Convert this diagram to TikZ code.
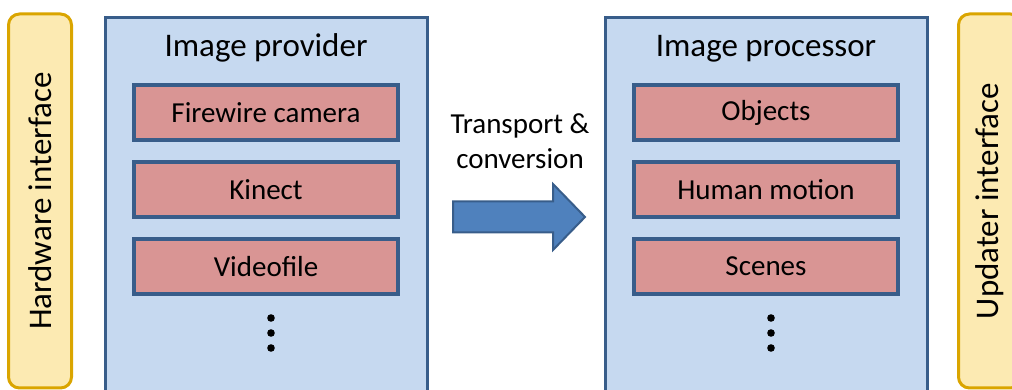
\documentclass[tikz,border=0pt]{standalone}
\usepackage{fontspec}
\setmainfont{Carlito}
\usetikzlibrary{positioning}
\definecolor{panelfill}{RGB}{198,217,240}
\definecolor{paneldraw}{RGB}{56,93,138}
\definecolor{itemfill}{RGB}{217,149,148}
\definecolor{sidefill}{RGB}{252,234,178}
\definecolor{sidedraw}{RGB}{218,165,0}
\definecolor{arrowfill}{RGB}{79,129,189}

\begin{document}
\begin{tikzpicture}[x=1pt,y=1pt,node distance=77pt,
      sidebar/.style={draw=sidedraw,fill=sidefill,line width=3pt,rounded corners=11pt,
        rotate=90,minimum width=374pt,minimum height=63pt,inner sep=0pt,
        font=\fontsize{33}{40}\selectfont},
      panel/.style={draw=paneldraw,fill=panelfill,line width=3pt,outer sep=0pt,
        minimum width=322pt,minimum height=384pt},
      paneltitle/.style={anchor=base,inner sep=0pt,font=\fontsize{33}{40}\selectfont},
      itembox/.style={draw=paneldraw,fill=itemfill,line width=4pt,inner sep=0pt,
        minimum width=264pt,minimum height=55pt,font=\fontsize{29}{35}\selectfont},
      bigarrow/.style={draw=paneldraw,fill=arrowfill,line width=2pt,line join=miter}]
    \useasboundingbox (0,0) rectangle (1012,390);
    \clip (0,0) rectangle (1012,390);
    \node[sidebar] (hardware) at (40,189) {Hardware interface};
    \node[sidebar] (updater) at (990,189) {Updater interface};
    \node[panel] (provider) at (266,180) {};
    \node[panel] (processor) at (766,180) {};
    \node[paneltitle] (providertitle) at ([yshift=-39pt]provider.north) {Image provider};
    \node[paneltitle] (processortitle) at ([yshift=-39pt]processor.north) {Image processor};
    \node[itembox] (firewire) at ([yshift=-94.5pt]provider.north) {Firewire camera};
    \node[itembox] (kinect) [below of=firewire] {Kinect};
    \node[itembox] (videofile) [below of=kinect] {Videofile};
    \node[itembox] (objects) at ([yshift=-94.5pt]processor.north) {Objects};
    \node[itembox] (motion) [below of=objects] {Human motion};
    \node[itembox] (scenes) [below of=motion] {Scenes};
    \foreach \p in {videofile,scenes}
      \foreach \d in {51.5,66.5,81.5}
        \fill ([xshift=5pt,yshift=-\d pt]\p.center) circle (3.8pt);
    \draw[bigarrow] (453,157.5) -- (553,157.5) -- (553,140) -- (585,173)
      -- (553,206) -- (553,188.5) -- (453,188.5) -- cycle;
    \node[align=center,inner sep=0pt,font=\fontsize{29}{35}\selectfont] (transport)
      at (520,249) {Transport \&\\conversion};
  \end{tikzpicture}
\end{document}
